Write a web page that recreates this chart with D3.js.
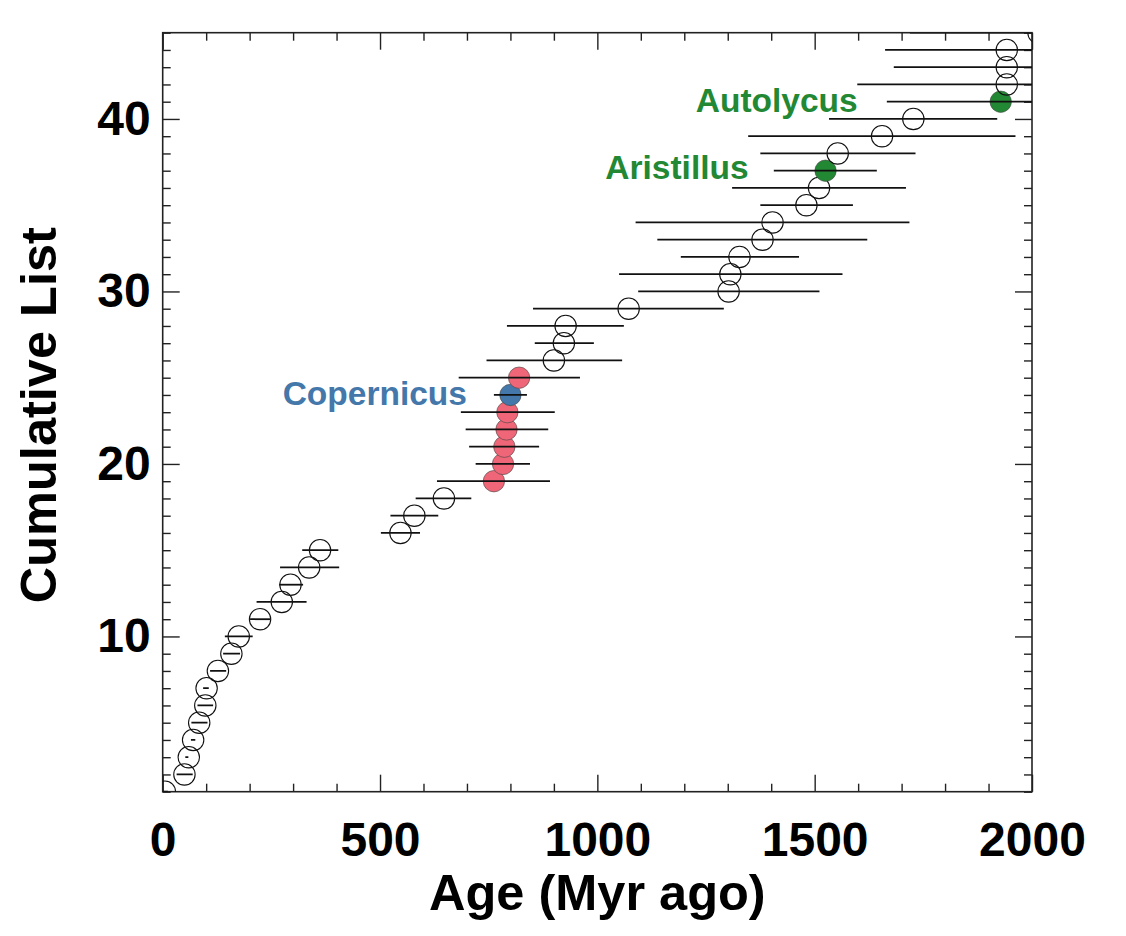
<!DOCTYPE html>
<html>
<head>
<meta charset="utf-8">
<script src="https://cdn.jsdelivr.net/npm/d3@7"></script>
<style>
    body { margin: 0; background: #fff; }
    #vis { width: 1126px; height: 936px; }
    text { font-family: "Liberation Sans", Arial, Helvetica, sans-serif; }
</style>
</head>
<body>
<div id="vis"></div>
<script>

////////////////////////////////////////
////////////// Data ////////////////////
////////////////////////////////////////

// position in the cumulative list (y)
const ranks = [1, 2, 3, 4, 5, 6, 7, 8, 9, 10, 11, 12, 13, 14, 15, 16, 17, 18, 19, 20,
    21, 22, 23, 24, 25, 26, 27, 28, 29, 30, 31, 32, 33, 34, 35, 36, 37, 38, 39, 40,
    41, 42, 43, 44, 45]

// crater age, Myr ago
const ages = [5, 50, 60, 70, 84, 98, 101, 127, 158, 175, 224, 274, 294, 337, 362,
    547, 579, 647, 762, 783, 786, 791, 793, 800, 820, 900, 923, 927, 1072, 1302,
    1306, 1327, 1380, 1403, 1481, 1510, 1525, 1553, 1655, 1727, 1928, 1942, 1942, 1942, 2015]

// error bar ends
const ageLow = [0, 32, 52, 65, 66, 80, 93, 109, 139, 143, 201, 216, 268, 270, 321,
    502, 524, 582, 631, 720, 705, 697, 686, 762, 681, 745, 856, 792, 852, 1094,
    1050, 1192, 1138, 1088, 1375, 1310, 1406, 1375, 1347, 1533, 1666, 1598, 1682, 1662, 1719]

const ageHigh = [12, 69, 59, 75, 103, 116, 106, 146, 178, 207, 248, 331, 323, 406, 404,
    592, 634, 710, 891, 845, 866, 887, 902, 838, 960, 1057, 992, 1061, 1291, 1511,
    1564, 1464, 1621, 1718, 1588, 1710, 1643, 1732, 1962, 1920, 2100, 2100, 2100, 2100, 2100]

// marker group: o = open, r = red, b = blue, g = green
const groups = ['o', 'o', 'o', 'o', 'o', 'o', 'o', 'o', 'o', 'o', 'o', 'o', 'o', 'o', 'o',
    'o', 'o', 'o', 'r', 'r', 'r', 'r', 'r', 'b', 'r', 'o', 'o', 'o', 'o', 'o',
    'o', 'o', 'o', 'o', 'o', 'o', 'g', 'o', 'o', 'o', 'g', 'o', 'o', 'o', 'o']

// named craters, label right end placed at (age, rank)
const labelNames = ['Copernicus', 'Aristillus', 'Autolycus']
const labelAges = [700, 1348, 1599]
const labelRanks = [24.1, 37.2, 41.1]
const labelGroups = ['b', 'g', 'g']

const xMajor = [0, 500, 1000, 1500, 2000]
const yMajor = [10, 20, 30, 40]

////////////////////////////////////////
////////////// Defaults ////////////////
////////////////////////////////////////

const options = {
    selector: '#vis',
    width: 1126,
    height: 936,
    margin: { top: 32.7, right: 94, bottom: 144.3, left: 162.7 },
}

const colors = { o: 'none', r: '#EE6677', b: '#4477AA', g: '#228833' }
const textColors = { b: '#4477AA', g: '#228833' }

////////////////////////////////////////
////////////// SVG Setup ///////////////
////////////////////////////////////////

const svg = d3.select(options.selector).append('svg')
    .attr('width', options.width)
    .attr('height', options.height)
    .append('g')
    .attr('transform', `translate(${options.margin.left}, ${options.margin.top})`)

const height = options.height - options.margin.top - options.margin.bottom
const width = options.width - options.margin.left - options.margin.right

////////////////////////////////////////
////////////// Scales //////////////////
////////////////////////////////////////

const xScale = d3.scaleLinear().domain([0, 2000]).range([0, width])
const yScale = d3.scaleLinear().domain([1, 45]).range([height, 0])

const xMinor = d3.range(0, 2001, 100).filter(v => !xMajor.includes(v))
const yMinor = d3.range(1, 46, 1).filter(v => !yMajor.includes(v))

////////////////////////////////////////
////////////// Axes ////////////////////
////////////////////////////////////////

const majorLen = 17, minorLen = 8

function styleAxis(g, labels) {
    g.select('.domain').remove()
    g.selectAll('line').attr('stroke', '#222').attr('stroke-width', 1.4)
    g.selectAll('text')
        .attr('fill', '#000')
        .attr('font-size', 48)
        .attr('font-weight', 'bold')
        .style('font-family', '"Liberation Sans", Arial, sans-serif')
    if (!labels) g.selectAll('text').remove()
}

// bottom / top
svg.append('g').attr('transform', `translate(0, ${height})`)
    .call(d3.axisBottom(xScale).tickValues(xMajor).tickSize(-majorLen).tickPadding(30).tickFormat(d3.format('d')))
    .call(g => styleAxis(g, true))
svg.append('g').attr('transform', `translate(0, ${height})`)
    .call(d3.axisBottom(xScale).tickValues(xMinor).tickSize(-minorLen))
    .call(g => styleAxis(g, false))
svg.append('g')
    .call(d3.axisTop(xScale).tickValues(xMajor).tickSize(-majorLen))
    .call(g => styleAxis(g, false))
svg.append('g')
    .call(d3.axisTop(xScale).tickValues(xMinor).tickSize(-minorLen))
    .call(g => styleAxis(g, false))

// left / right
svg.append('g')
    .call(d3.axisLeft(yScale).tickValues(yMajor).tickSize(-majorLen).tickPadding(12))
    .call(g => styleAxis(g, true))
svg.append('g')
    .call(d3.axisLeft(yScale).tickValues(yMinor).tickSize(-minorLen))
    .call(g => styleAxis(g, false))
svg.append('g').attr('transform', `translate(${width}, 0)`)
    .call(d3.axisRight(yScale).tickValues(yMajor).tickSize(-majorLen))
    .call(g => styleAxis(g, false))
svg.append('g').attr('transform', `translate(${width}, 0)`)
    .call(d3.axisRight(yScale).tickValues(yMinor).tickSize(-minorLen))
    .call(g => styleAxis(g, false))

// frame
svg.append('rect')
    .attr('width', width)
    .attr('height', height)
    .attr('fill', 'none')
    .attr('stroke', '#222')
    .attr('stroke-width', 1.6)

// axis titles
svg.append('text')
    .attr('x', width / 2)
    .attr('y', 877)
    .attr('text-anchor', 'middle')
    .attr('font-size', 50.5)
    .attr('font-weight', 'bold')
    .text('Age (Myr ago)')

svg.append('text')
    .attr('transform', `translate(${56 - options.margin.left}, ${height / 2 + 3}) rotate(-90)`)
    .attr('text-anchor', 'middle')
    .attr('font-size', 50.5)
    .attr('font-weight', 'bold')
    .text('Cumulative List')

////////////////////////////////////////
////////////// Marks ///////////////////
////////////////////////////////////////

const data = ranks.map((r, i) => ({
    rank: r, age: ages[i], lo: ageLow[i], hi: ageHigh[i], group: groups[i]
}))

svg.append('clipPath').attr('id', 'plot-clip')
    .append('rect').attr('width', width).attr('height', height)

const plot = svg.append('g').attr('clip-path', 'url(#plot-clip)')

plot.selectAll('.dot')
    .data(data)
    .join('circle')
    .classed('dot', true)
    .attr('cx', d => xScale(d.age))
    .attr('cy', d => yScale(d.rank))
    .attr('r', 10.7)
    .attr('fill', d => colors[d.group])
    .attr('stroke', d => d.group === 'o' ? '#111' : '#444')
    .attr('stroke-width', d => d.group === 'o' ? 1.1 : 0.6)

plot.selectAll('.err')
    .data(data)
    .join('line')
    .classed('err', true)
    .attr('x1', d => xScale(d.lo))
    .attr('x2', d => xScale(d.hi))
    .attr('y1', d => yScale(d.rank))
    .attr('y2', d => yScale(d.rank))
    .attr('stroke', '#111')
    .attr('stroke-width', 1.8)

svg.selectAll('.crater-label')
    .data(labelNames)
    .join('text')
    .classed('crater-label', true)
    .attr('x', (d, i) => xScale(labelAges[i]))
    .attr('y', (d, i) => yScale(labelRanks[i]))
    .attr('dy', '0.36em')
    .attr('text-anchor', 'end')
    .attr('font-size', 33.5)
    .attr('font-weight', 'bold')
    .attr('fill', (d, i) => textColors[labelGroups[i]])
    .text(d => d)

</script>
</body>
</html>
